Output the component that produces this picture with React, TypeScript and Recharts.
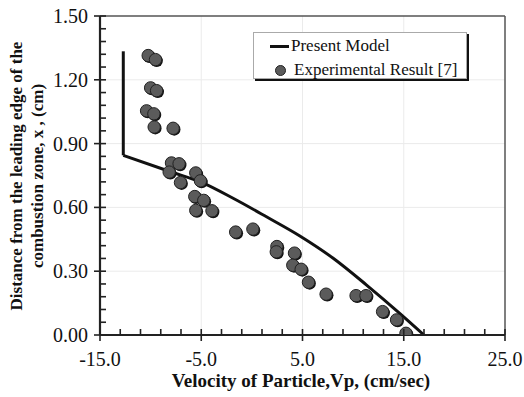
import { ComposedChart, Line, Scatter, XAxis, YAxis, ReferenceLine } from 'recharts';

// Present Model: vertical part, then the falling curve
const wallX = [-12.7, -12.7];
const wallY = [1.334, 0.845];
const curveX = [-12.7, -8.1, -4.8, -1.9, 1.4, 4.7, 8.0, 11.3, 14.6, 17.0];
const curveY = [0.845, 0.769, 0.714, 0.644, 0.557, 0.467, 0.362, 0.236, 0.102, 0.0];

const expX = [
  -10.24, -9.52, -10.0, -9.41, -10.4, -9.68, -9.65, -7.78, -7.94, -7.19, -8.17, -7.05,
  -5.54, -5.08, -5.64, -4.75, -5.54, -3.94, -1.6, 0.1, 2.47, 2.41, 4.21, 4.04, 4.87,
  5.59, 7.33, 10.29, 11.27, 12.91, 14.29, 15.22,
];
const expY = [
  1.314, 1.295, 1.162, 1.149, 1.054, 1.04, 0.978, 0.972, 0.809, 0.805, 0.766, 0.717,
  0.762, 0.725, 0.651, 0.633, 0.586, 0.584, 0.484, 0.498, 0.416, 0.391, 0.385, 0.328,
  0.309, 0.248, 0.192, 0.185, 0.185, 0.11, 0.071, 0.008,
];

const xTicks = [-15, -13, -11, -9, -7, -5, -3, -1, 1, 3, 5, 7, 9, 11, 13, 15, 17, 19, 21, 23, 25];
const xMajor = [-15, -5, 5, 15, 25];
const yTicks = [
  0, 0.06, 0.12, 0.18, 0.24, 0.3, 0.36, 0.42, 0.48, 0.54, 0.6, 0.66, 0.72, 0.78, 0.84, 0.9,
  0.96, 1.02, 1.08, 1.14, 1.2, 1.26, 1.32, 1.38, 1.44, 1.5,
];
const yMajor = [0, 0.3, 0.6, 0.9, 1.2, 1.5];
const gridX = [-5, 5, 15];
const gridY = [0.3, 0.6, 0.9, 1.2];

const wallData = wallX.map((x, i) => ({ x, y: wallY[i] }));
const curveData = curveX.map((x, i) => ({ x, y: curveY[i] }));
const expData = expX.map((x, i) => ({ x, y: expY[i] }));

const serif = "'Liberation Serif', 'Times New Roman', Times, serif";
const isMajor = (list: number[], v: number) => list.some((m) => Math.abs(m - v) < 1e-6);

function XTick({ x, y, payload }: any) {
  const major = isMajor(xMajor, payload.value);
  return (
    <g>
      <line x1={x} x2={x} y1={y - 6} y2={major ? y + 6 : y} stroke="#222" strokeWidth={1.6} />
      {major && (
        <text x={x} y={y + 31} textAnchor="middle" fontSize={20} style={{ fontFamily: serif }} fill="#111">
          {payload.value.toFixed(1)}
        </text>
      )}
    </g>
  );
}

function YTick({ x, y, payload }: any) {
  const major = isMajor(yMajor, payload.value);
  return (
    <g>
      <line x1={major ? x - 6 : x} x2={x + 6} y1={y} y2={y} stroke="#222" strokeWidth={1.6} />
      {major && (
        <text x={x - 12} y={y + 7} textAnchor="end" fontSize={20} style={{ fontFamily: serif }} fill="#111">
          {payload.value.toFixed(2)}
        </text>
      )}
    </g>
  );
}

function Dot({ cx, cy }: any) {
  return (
    <g>
      <circle cx={cx + 1.2} cy={cy + 1.2} r={6.2} fill="#111" />
      <circle cx={cx} cy={cy} r={6.2} fill="#5b5b5b" stroke="#222" strokeWidth={1} />
    </g>
  );
}

function LegendBox() {
  return (
    <div
      style={{
        position: 'absolute',
        left: 253,
        top: 32,
        width: 214,
        height: 47,
        background: '#fff',
        border: '1px solid #aaa',
        boxShadow: '2px 2px 0 #111',
        fontFamily: serif,
        fontSize: 17,
        color: '#111',
        boxSizing: 'border-box',
        paddingTop: 1,
      }}
    >
      <div style={{ display: 'flex', alignItems: 'center', height: 24 }}>
        <span style={{ display: 'inline-block', width: 19, height: 3, background: '#111', marginLeft: 16, marginRight: 2 }} />
        Present Model
      </div>
      <div style={{ display: 'flex', alignItems: 'center', height: 24 }}>
        <span
          style={{
            display: 'inline-block',
            width: 9,
            height: 9,
            borderRadius: '50%',
            background: '#5b5b5b',
            border: '1px solid #222',
            marginLeft: 21,
            marginRight: 8,
          }}
        />
        Experimental Result [7]
      </div>
    </div>
  );
}

function YTitle() {
  return (
    <g style={{ fontFamily: serif }} fontWeight="bold" fontSize={17} fill="#111">
      <text x={22} y={176} textAnchor="middle" transform="rotate(-90 22 176)">
        Distance from the leading edge of the
      </text>
      <text x={43} y={176} textAnchor="middle" transform="rotate(-90 43 176)">
        combustion zone, x , (cm)
      </text>
    </g>
  );
}

function XTitle() {
  return (
    <text x={301} y={387} textAnchor="middle" style={{ fontFamily: serif }} fontWeight="bold" fontSize={19} fill="#111">
      Velocity of Particle,Vp, (cm/sec)
    </text>
  );
}

export default function App() {
  return (
    <div style={{ position: 'absolute', left: 0, top: 0, width: 524, height: 397, background: '#fff' }}>
      <ComposedChart width={524} height={397} margin={{ top: 16, right: 19, bottom: 0, left: 0 }}>
        {gridX.map((v) => (
          <ReferenceLine key={'gx' + v} x={v} stroke="#ebebeb" strokeWidth={1} />
        ))}
        {gridY.map((v) => (
          <ReferenceLine key={'gy' + v} y={v} stroke="#ebebeb" strokeWidth={1} />
        ))}
        <ReferenceLine y={1.5} stroke="#555" strokeWidth={1.5} />
        <ReferenceLine x={25} stroke="#555" strokeWidth={1.5} />
        <XAxis
          type="number"
          dataKey="x"
          domain={[-15, 25]}
          ticks={xTicks}
          interval={0}
          height={62}
          tickSize={0}
          tickMargin={0}
          tickLine={false}
          tick={<XTick />}
          axisLine={{ stroke: '#222', strokeWidth: 2.2 }}
          label={{ content: () => <XTitle /> }}
          allowDataOverflow
        />
        <YAxis
          type="number"
          dataKey="y"
          domain={[0, 1.5]}
          ticks={yTicks}
          interval={0}
          width={100}
          tickSize={0}
          tickMargin={0}
          tickLine={false}
          tick={<YTick />}
          axisLine={{ stroke: '#222', strokeWidth: 2.2 }}
          label={{ content: () => <YTitle /> }}
          allowDataOverflow
        />
        <Line
          data={wallData}
          dataKey="y"
          type="linear"
          stroke="#111"
          strokeWidth={3}
          dot={false}
          activeDot={false}
          isAnimationActive={false}
        />
        <Line
          data={curveData}
          dataKey="y"
          type="monotone"
          stroke="#111"
          strokeWidth={3}
          dot={false}
          activeDot={false}
          isAnimationActive={false}
        />
        <Scatter data={expData} dataKey="y" shape={<Dot />} isAnimationActive={false} />
      </ComposedChart>
      <LegendBox />
    </div>
  );
}
